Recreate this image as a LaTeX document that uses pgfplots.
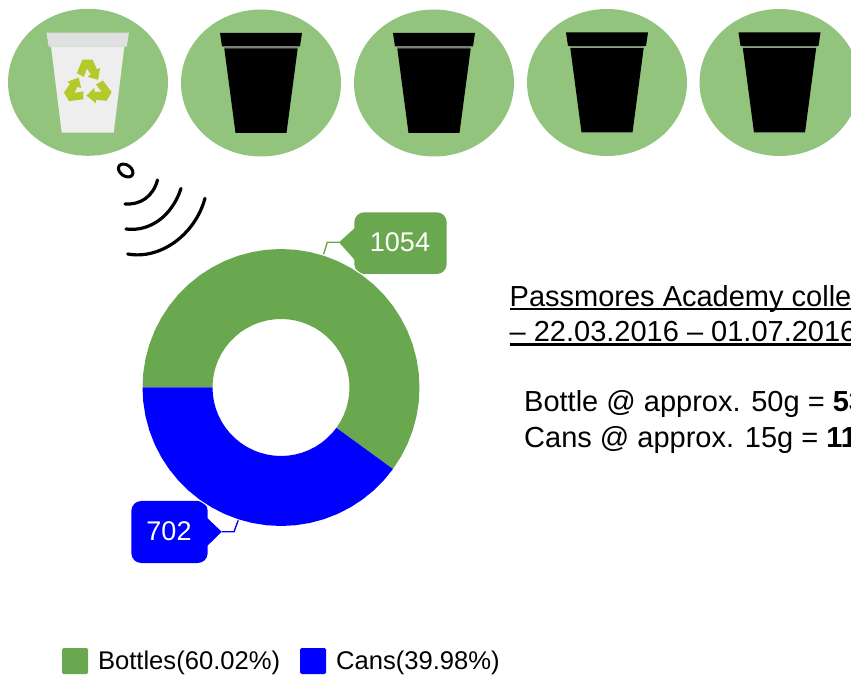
\documentclass[border=0pt]{standalone}
\usepackage{pgfplots}
\pgfplotsset{compat=1.18}
\usepackage{fontspec}
\setmainfont{Liberation Sans}
\definecolor{pale}{HTML}{93C47D}
\definecolor{bottle}{HTML}{6AA84F}
\definecolor{cans}{HTML}{0000FF}
\definecolor{rimg}{HTML}{E0E0E0}
\definecolor{cupw}{HTML}{EEEEEE}
\definecolor{recy}{HTML}{B5C92B}
\begin{document}
\begin{tikzpicture}
\clip (0,0) rectangle (851pt,675pt);
\begin{scope}[x=1pt,y=-1pt,yshift=675pt]
  % callouts (under the ring)
  \fill[bottle,rounded corners=10pt] (354.3,212.3) rectangle (446.7,274);
  \fill[bottle] (354.8,228) -- (339,242.3) -- (354.8,260) -- cycle;
  \draw[bottle,line width=1.4] (339,242.3) -- (327.3,242.3) -- (323.3,255);
  \fill[cans,rounded corners=10pt] (131.3,501) rectangle (207.7,563);
  \fill[cans] (207.2,518) -- (221.7,531.7) -- (207.2,546) -- cycle;
  \draw[cans,line width=1.4] (221.7,531.7) -- (234,531.7) -- (238.7,519);
\end{scope}
\begin{axis}[
  at={(0,0)},anchor=south west,
  scale only axis,width=851pt,height=675pt,
  xmin=-281,xmax=570,ymin=-287.5,ymax=387.5,
  hide axis,clip=false,
  legend cell align=left,
  legend columns=2,
  legend style={draw=none,fill=none,at={(62pt,1pt)},anchor=south west,inner sep=0pt,outer sep=0pt,
    font=\fontsize{25.6}{28}\selectfont,
    /tikz/every even column/.append style={column sep=18pt}},
  legend image code/.code={\fill[rounded corners=1.5pt,#1,draw=none] (0pt,-13pt) rectangle (26pt,13pt);\path (34pt,0pt);},
]
% thin white halo round the ring
\addplot[data cs=polar,fill=white,draw=none,forget plot] coordinates {
(0,140)(10,140)(20,140)(30,140)(40,140)(50,140)(60,140)(70,140)(80,140)(90,140)(100,140)(110,140)
(120,140)(130,140)(140,140)(150,140)(160,140)(170,140)(180,140)(190,140)(200,140)(210,140)(220,140)(230,140)
(240,140)(250,140)(260,140)(270,140)(280,140)(290,140)(300,140)(310,140)(320,140)(330,140)(340,140)(350,140)
} -- cycle;
% Bottles 1054 (60.02%): outer edge clockwise, inner edge back
\addplot[data cs=polar,fill=bottle,draw=none] coordinates {
(180,138.5)(174,138.5)(168,138.5)(162,138.5)(156,138.5)(150,138.5)(144,138.5)(138,138.5)(132,138.5)(126,138.5)
(120,138.5)(114,138.5)(108,138.5)(102,138.5)(96,138.5)(90,138.5)(84,138.5)(78,138.5)(72,138.5)(66,138.5)
(60,138.5)(54,138.5)(48,138.5)(42,138.5)(36,138.5)(30,138.5)(24,138.5)(18,138.5)(12,138.5)(6,138.5)
(0,138.5)(-6,138.5)(-12,138.5)(-18,138.5)(-24,138.5)(-30,138.5)(-36.07,138.5)
(-36.07,68.5)(-30,68.5)(-24,68.5)(-18,68.5)(-12,68.5)(-6,68.5)(0,68.5)
(6,68.5)(12,68.5)(18,68.5)(24,68.5)(30,68.5)(36,68.5)(42,68.5)(48,68.5)(54,68.5)(60,68.5)
(66,68.5)(72,68.5)(78,68.5)(84,68.5)(90,68.5)(96,68.5)(102,68.5)(108,68.5)(114,68.5)(120,68.5)
(126,68.5)(132,68.5)(138,68.5)(144,68.5)(150,68.5)(156,68.5)(162,68.5)(168,68.5)(174,68.5)(180,68.5)
} -- cycle;
\addlegendentry{Bottles(60.02\%)}
% Cans 702 (39.98%)
\addplot[data cs=polar,fill=cans,draw=none] coordinates {
(-36.07,138.5)(-42,138.5)(-48,138.5)(-54,138.5)(-60,138.5)(-66,138.5)(-72,138.5)(-78,138.5)(-84,138.5)(-90,138.5)
(-96,138.5)(-102,138.5)(-108,138.5)(-114,138.5)(-120,138.5)(-126,138.5)(-132,138.5)(-138,138.5)(-144,138.5)
(-150,138.5)(-156,138.5)(-162,138.5)(-168,138.5)(-174,138.5)(-180,138.5)
(-180,68.5)(-174,68.5)(-168,68.5)(-162,68.5)(-156,68.5)(-150,68.5)(-144,68.5)(-138,68.5)(-132,68.5)(-126,68.5)
(-120,68.5)(-114,68.5)(-108,68.5)(-102,68.5)(-96,68.5)(-90,68.5)(-84,68.5)(-78,68.5)(-72,68.5)(-66,68.5)
(-60,68.5)(-54,68.5)(-48,68.5)(-42,68.5)(-36.07,68.5)
} -- cycle;
\addlegendentry{Cans(39.98\%)}
\end{axis}
\begin{scope}[x=1pt,y=-1pt,yshift=675pt]
  % discs
  \foreach \cx/\cy in {88/82.3,261/83,434/83,607/82.5,779.5/82.5}{
    \fill[pale] (\cx,\cy) ellipse [x radius=80,y radius=73.5];
  }
  % white cup
  \begin{scope}[shift={(87.7,82.3)}]
    \fill[cupw] (-36.7,-36) -- (36.7,-36) -- (26,50.4) -- (-26,50.4) -- cycle;
    \fill[rimg] (-41.3,-49.6) -- (41.3,-49.6) -- (39,-35.6) -- (-39,-35.6) -- cycle;
    \begin{scope}[shift={(0,2)},scale=1.12]
      \foreach \r in {0,120,240}{
        \fill[recy,rotate=\r] (-9.7,-10) -- (-4.7,-22) -- (4.3,-22) -- (8.3,-13.3) -- (11,-14.7) -- (9.3,-4) -- (0,-6.7) -- (2.7,-9) -- (-0.7,-14) -- (-3.5,-6.5) -- cycle;
      }
    \end{scope}
  \end{scope}
  % black cups
  \foreach \cx/\cy in {261/83,434/83,607/82.5,779.5/82.5}{
    \begin{scope}[shift={(\cx,\cy)}]
      \fill[black] (-36.7,-34.5) -- (36.7,-34.5) -- (25.5,50) -- (-25.5,50) -- cycle;
      \fill[black] (-41,-50) -- (41,-50) -- (39,-36.5) -- (-39,-36.5) -- cycle;
      \fill[gray] (-37,-36.5) rectangle (37,-35);
    \end{scope}
  }
  % signal
  \draw[black,line width=3] (125.7,170.5) ellipse [x radius=8,y radius=5.5,rotate=-35];
  \draw[black,line width=3.2,line cap=round] (157.5,180) .. controls (153,197) and (140,205) .. (125,204);
  \draw[black,line width=3.2,line cap=round] (181,188.5) .. controls (172,216) and (150,232) .. (126,229);
  \draw[black,line width=3.2,line cap=round] (205,198.3) .. controls (195,235) and (160,260) .. (127.7,254);
  % callout numbers
  \node[anchor=base,text=white,inner sep=0,font=\fontsize{27}{30}\selectfont] at (400,251.7) {1054};
  \node[anchor=base,text=white,inner sep=0,font=\fontsize{27}{30}\selectfont] at (169,540.7) {702};
  % text
  \node[anchor=base west,inner sep=0,font=\fontsize{29}{35}\selectfont] at (509.5,306.5) {Passmores Academy colle};
  \fill[black] (509.5,308.3) rectangle (851,310.5);
  \node[anchor=base west,inner sep=0,font=\fontsize{29}{35}\selectfont] at (509.5,341.5) {– 22.03.2016 – 01.07.2016};
  \fill[black] (509.5,343.3) rectangle (851,345.6);
  \node[anchor=base west,inner sep=0,font=\fontsize{29}{35}\selectfont] at (524,412) {Bottle @ approx. 50g = \textbf{53}};
  \node[anchor=base west,inner sep=0,font=\fontsize{29}{35}\selectfont] at (524,447.5) {Cans @ approx. 15g = \textbf{11}};
\end{scope}
\end{tikzpicture}
\end{document}
